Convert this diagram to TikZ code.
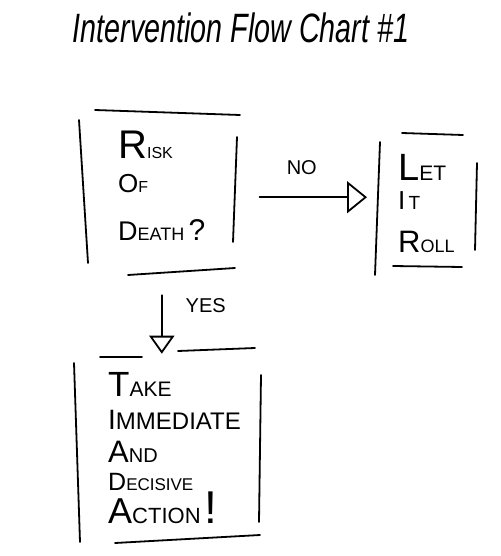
\documentclass[tikz,border=0pt]{standalone}
\usepackage{fontspec}
\setmainfont{Liberation Sans}
\newfontfamily\titlefont[FakeStretch=0.7]{Liberation Sans}
\usetikzlibrary{arrows.meta}
% hand lettering: one big capital, then smaller capitals
\NewDocumentCommand{\hw}{O{26} O{18} m m}{{\fontsize{#1}{#1}\selectfont #3}{\fontsize{#2}{#2}\selectfont #4}}

\begin{document}
\begin{tikzpicture}[x=1pt,y=-1pt,
  pen/.style={line width=1.8pt,line cap=round},
  txt/.style={inner sep=0pt,align=left,anchor=base west},
  flow/.style={pen,-{Triangle[open,length=20pt,width=32pt]}},
  lbl/.style={inner sep=0pt,font=\fontsize{20}{20}\selectfont}]
\useasboundingbox (0,0) rectangle (500,556);

\node[inner sep=0pt,anchor=base,font=\titlefont\itshape\fontsize{41}{41}\selectfont] (title) at (241,43) {Intervention Flow Chart \#1};

% the three boxes (placed by the baseline of their last line)
\node[txt,font=\fontsize{26}{34}\selectfont] (risk) at (118,240)
  {\hw[40][16]{R}{ISK}\\ \hw[26][16]{O}{F}\\[14pt] \hw[27][18]{D}{EATH}\,{\fontsize{30}{30}\selectfont ?}};
\node[txt,font=\fontsize{26}{29}\selectfont] (let) at (398,252)
  {\hw[38][21]{L}{ET}\\ \hw[26][19]{I}{\,T}\\[14pt] \hw[31][18]{R}{OLL}};
\node[txt,font=\fontsize{24}{33}\selectfont] (take) at (108,523)
  {\hw[35][21]{T}{AKE}\\ \hw[28][24]{I}{MMEDIATE}\\ \hw[31][20]{A}{ND}\\[-5pt] \hw[25][17]{D}{ECISIVE}\\ \hw[36][22]{A}{CTION}\,{\fontsize{46}{46}\selectfont !}};

% hand drawn sides
\draw[pen] (95,110)--(240,115) (79,120)--(88,263) (237,137)--(233,242) (128,275)--(235,268);
\draw[pen] (402,133)--(463,135) (380,142)--(375,275) (477,163)--(475,250) (393,266)--(462,267);
\draw[pen] (100,357)--(142,357) (178,351)--(255,348) (74,363)--(80,542) (261,375)--(259,522) (115,543)--(260,535);

% connectors
\draw[flow,shorten <=54pt,shorten >=31pt] ([yshift=-12pt]risk.east) -- ([yshift=-12pt]risk.east -| let.west)
  node[lbl,midway,above=22pt] {NO};
\draw[flow,-{Triangle[open,length=18pt,width=25pt]},shorten <=55pt,shorten >=18pt] (risk.south) -- (risk.south |- take.north)
  node[lbl,midway,right=23pt] {YES};
\end{tikzpicture}
\end{document}
